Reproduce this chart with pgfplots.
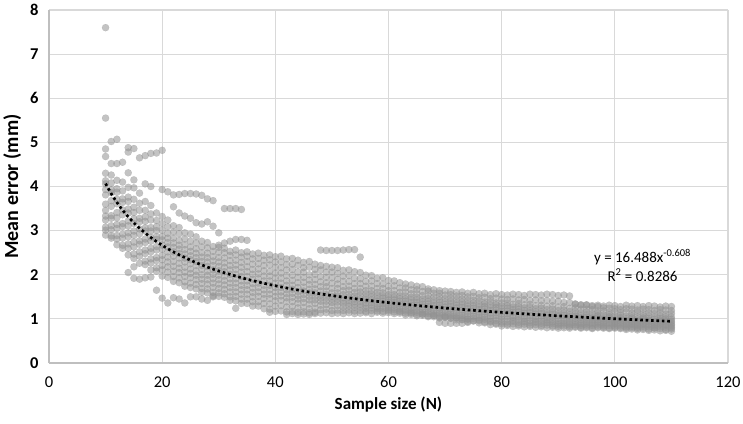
\documentclass[border=0pt]{standalone}
\usepackage{pgfplots}
\pgfplotsset{compat=1.18}
\usepackage{fontspec}
\setmainfont{Carlito}
\definecolor{dotgray}{RGB}{145,145,145}
\definecolor{gridgray}{RGB}{217,217,217}
\definecolor{axisgray}{RGB}{191,191,191}
\pgfplotsset{scat/.style={only marks, color=dotgray, mark=*, mark size=3.6pt, mark options={solid, draw=dotgray, fill=dotgray, line width=0.1pt, opacity=0.55}}}
\begin{document}
\begin{tikzpicture}
\useasboundingbox (-49pt,-60pt) rectangle (694pt,363pt);
\begin{axis}[
  scale only axis, width=679pt, height=353pt,
  xmin=0, xmax=120, ymin=0, ymax=8,
  xtick={0,20,...,120}, ytick={0,1,...,8},
  grid=major, grid style={draw=gridgray, line width=1.1pt},
  axis x line*=bottom, axis y line*=left,
  x axis line style={-, draw=axisgray, line width=1.1pt},
  y axis line style={-, draw=axisgray, line width=1.1pt},
  tick style={draw=none},
  /pgf/number format/assume math mode=true,
  xticklabel style={font=\fontsize{16.5}{19}\selectfont, yshift=-10pt},
  yticklabel style={font=\fontsize{16.5}{19}\selectfont\bfseries, xshift=-7pt},
  xlabel={\bfseries Sample size (N)},
  ylabel={\bfseries Mean error (mm)},
  xlabel style={font=\fontsize{17}{20}\selectfont, yshift=-2pt},
  ylabel style={font=\fontsize{20}{22}\selectfont, yshift=2pt},
  clip=false, clip marker paths=true,
]
% trajectory 1
\addplot[scat] table[row sep=\\] {x y\\
10 4.30\\11 4.26\\12 4.14\\13 4.10\\14 3.98\\15 3.97\\16 3.85\\17 3.66\\18 3.57\\19 3.40\\
20 3.32\\21 3.24\\22 3.11\\23 3.07\\24 2.95\\25 2.92\\26 2.86\\27 2.76\\28 2.73\\29 2.64\\
30 2.62\\31 2.60\\32 2.53\\33 2.56\\34 2.50\\35 2.52\\36 2.47\\37 2.49\\38 2.44\\39 2.45\\
40 2.41\\41 2.42\\42 2.36\\43 2.37\\44 2.33\\45 2.28\\46 2.30\\47 2.24\\48 2.21\\49 2.19\\
50 2.17\\51 2.16\\52 2.10\\53 2.11\\54 2.07\\55 2.05\\56 1.99\\57 1.98\\58 1.92\\59 1.93\\
60 1.87\\61 1.86\\62 1.82\\63 1.79\\64 1.77\\65 1.74\\66 1.73\\67 1.68\\68 1.66\\69 1.64\\
70 1.63\\71 1.62\\72 1.60\\73 1.61\\74 1.58\\75 1.60\\76 1.57\\77 1.58\\78 1.55\\79 1.57\\
80 1.55\\81 1.54\\82 1.56\\83 1.55\\84 1.53\\85 1.56\\86 1.55\\87 1.54\\88 1.56\\89 1.55\\
90 1.53\\91 1.54\\92 1.52\\93 1.33\\94 1.31\\95 1.32\\96 1.30\\97 1.31\\98 1.29\\99 1.31\\
100 1.30\\101 1.28\\102 1.31\\103 1.29\\104 1.30\\105 1.28\\106 1.30\\107 1.29\\108 1.27\\109 1.29\\110 1.28\\
};
% trajectory 2
\addplot[scat] table[row sep=\\] {x y\\
10 4.13\\11 4.08\\12 3.95\\13 3.90\\14 3.76\\15 3.71\\16 3.62\\17 3.46\\18 3.38\\19 3.23\\
20 3.16\\21 3.09\\22 2.97\\23 2.93\\24 2.81\\25 2.76\\26 2.72\\27 2.63\\28 2.61\\29 2.53\\
30 2.51\\31 2.50\\32 2.44\\33 2.45\\34 2.40\\35 2.42\\36 2.36\\37 2.37\\38 2.33\\39 2.34\\
40 2.29\\41 2.29\\42 2.23\\43 2.24\\44 2.21\\45 2.16\\46 2.17\\47 2.12\\48 2.11\\49 2.06\\
50 2.06\\51 2.03\\52 1.97\\53 1.98\\54 1.92\\55 1.91\\56 1.85\\57 1.86\\58 1.80\\59 1.79\\
60 1.74\\61 1.75\\62 1.70\\63 1.70\\64 1.66\\65 1.66\\66 1.62\\67 1.63\\68 1.58\\69 1.58\\
70 1.54\\71 1.55\\72 1.52\\73 1.53\\74 1.50\\75 1.51\\76 1.48\\77 1.49\\78 1.46\\79 1.47\\
80 1.45\\81 1.44\\82 1.45\\83 1.43\\84 1.44\\85 1.42\\86 1.43\\87 1.41\\88 1.42\\89 1.40\\
90 1.40\\91 1.37\\92 1.37\\93 1.34\\94 1.32\\95 1.31\\96 1.28\\97 1.28\\98 1.25\\99 1.24\\
100 1.23\\101 1.21\\102 1.23\\103 1.22\\104 1.20\\105 1.22\\106 1.21\\107 1.19\\108 1.21\\109 1.20\\110 1.19\\
};
% trajectory 3
\addplot[scat] table[row sep=\\] {x y\\
10 4.06\\11 3.93\\12 3.87\\13 3.72\\14 3.66\\15 3.53\\16 3.46\\17 3.31\\18 3.24\\19 3.09\\
20 3.01\\21 2.94\\22 2.83\\23 2.78\\24 2.68\\25 2.63\\26 2.59\\27 2.50\\28 2.49\\29 2.41\\
30 2.39\\31 2.38\\32 2.32\\33 2.33\\34 2.28\\35 2.30\\36 2.24\\37 2.25\\38 2.21\\39 2.22\\
40 2.17\\41 2.16\\42 2.11\\43 2.12\\44 2.06\\45 2.06\\46 2.00\\47 2.01\\48 1.96\\49 1.94\\
50 1.93\\51 1.90\\52 1.85\\53 1.85\\54 1.80\\55 1.80\\56 1.74\\57 1.74\\58 1.69\\59 1.69\\
60 1.64\\61 1.64\\62 1.60\\63 1.61\\64 1.57\\65 1.57\\66 1.53\\67 1.53\\68 1.50\\69 1.50\\
70 1.46\\71 1.47\\72 1.44\\73 1.45\\74 1.42\\75 1.42\\76 1.41\\77 1.38\\78 1.39\\79 1.36\\
80 1.36\\81 1.36\\82 1.33\\83 1.35\\84 1.32\\85 1.33\\86 1.30\\87 1.31\\88 1.29\\89 1.30\\
90 1.27\\91 1.28\\92 1.24\\93 1.25\\94 1.22\\95 1.22\\96 1.21\\97 1.18\\98 1.18\\99 1.15\\
100 1.16\\101 1.14\\102 1.15\\103 1.13\\104 1.15\\105 1.12\\106 1.14\\107 1.12\\108 1.13\\109 1.11\\110 1.12\\
};
% trajectory 4
\addplot[scat] table[row sep=\\] {x y\\
10 3.93\\11 3.86\\12 3.71\\13 3.64\\14 3.49\\15 3.41\\16 3.28\\17 3.21\\18 3.07\\19 3.00\\
20 2.87\\21 2.83\\22 2.72\\23 2.67\\24 2.57\\25 2.53\\26 2.49\\27 2.40\\28 2.39\\29 2.31\\
30 2.29\\31 2.27\\32 2.21\\33 2.22\\34 2.17\\35 2.18\\36 2.12\\37 2.13\\38 2.09\\39 2.08\\
40 2.04\\41 2.04\\42 1.98\\43 1.99\\44 1.94\\45 1.94\\46 1.88\\47 1.89\\48 1.84\\49 1.82\\
50 1.81\\51 1.79\\52 1.73\\53 1.74\\54 1.69\\55 1.69\\56 1.64\\57 1.64\\58 1.60\\59 1.59\\
60 1.55\\61 1.55\\62 1.52\\63 1.52\\64 1.49\\65 1.49\\66 1.45\\67 1.46\\68 1.42\\69 1.43\\
70 1.39\\71 1.40\\72 1.37\\73 1.38\\74 1.35\\75 1.36\\76 1.33\\77 1.34\\78 1.31\\79 1.32\\
80 1.29\\81 1.30\\82 1.27\\83 1.28\\84 1.25\\85 1.26\\86 1.23\\87 1.24\\88 1.21\\89 1.22\\
90 1.19\\91 1.20\\92 1.17\\93 1.17\\94 1.14\\95 1.15\\96 1.12\\97 1.13\\98 1.09\\99 1.10\\
100 1.07\\101 1.08\\102 1.06\\103 1.07\\104 1.05\\105 1.07\\106 1.06\\107 1.04\\108 1.06\\109 1.05\\110 1.04\\
};
% trajectory 5
\addplot[scat] table[row sep=\\] {x y\\
10 3.81\\11 3.68\\12 3.61\\13 3.47\\14 3.40\\15 3.27\\16 3.20\\17 3.06\\18 2.99\\19 2.86\\
20 2.79\\21 2.73\\22 2.62\\23 2.58\\24 2.47\\25 2.43\\26 2.39\\27 2.30\\28 2.29\\29 2.21\\
30 2.19\\31 2.17\\32 2.11\\33 2.12\\34 2.06\\35 2.07\\36 2.01\\37 2.02\\38 1.97\\39 1.97\\
40 1.92\\41 1.92\\42 1.86\\43 1.87\\44 1.82\\45 1.83\\46 1.78\\47 1.78\\48 1.73\\49 1.73\\
50 1.69\\51 1.69\\52 1.64\\53 1.65\\54 1.60\\55 1.61\\56 1.57\\57 1.57\\58 1.53\\59 1.53\\
60 1.49\\61 1.49\\62 1.46\\63 1.46\\64 1.43\\65 1.43\\66 1.39\\67 1.40\\68 1.36\\69 1.37\\
70 1.33\\71 1.34\\72 1.31\\73 1.32\\74 1.29\\75 1.30\\76 1.27\\77 1.28\\78 1.25\\79 1.26\\
80 1.23\\81 1.24\\82 1.21\\83 1.22\\84 1.19\\85 1.19\\86 1.16\\87 1.17\\88 1.14\\89 1.15\\
90 1.12\\91 1.13\\92 1.10\\93 1.11\\94 1.08\\95 1.09\\96 1.06\\97 1.07\\98 1.04\\99 1.05\\
100 1.02\\101 1.03\\102 1.01\\103 1.02\\104 1.00\\105 1.02\\106 1.01\\107 0.99\\108 1.01\\109 1.00\\110 0.99\\
};
% trajectory 6
\addplot[scat] table[row sep=\\] {x y\\
10 3.60\\11 3.55\\12 3.41\\13 3.36\\14 3.22\\15 3.16\\16 3.04\\17 2.99\\18 2.85\\19 2.80\\
20 2.67\\21 2.63\\22 2.52\\23 2.48\\24 2.38\\25 2.34\\26 2.30\\27 2.21\\28 2.19\\29 2.11\\
30 2.09\\31 2.07\\32 2.01\\33 2.01\\34 1.96\\35 1.96\\36 1.90\\37 1.91\\38 1.86\\39 1.86\\
40 1.81\\41 1.81\\42 1.76\\43 1.76\\44 1.71\\45 1.72\\46 1.67\\47 1.68\\48 1.63\\49 1.63\\
50 1.59\\51 1.59\\52 1.55\\53 1.56\\54 1.52\\55 1.53\\56 1.49\\57 1.50\\58 1.46\\59 1.47\\
60 1.43\\61 1.43\\62 1.40\\63 1.40\\64 1.37\\65 1.37\\66 1.33\\67 1.34\\68 1.30\\69 1.31\\
70 1.27\\71 1.28\\72 1.25\\73 1.26\\74 1.23\\75 1.24\\76 1.21\\77 1.22\\78 1.19\\79 1.20\\
80 1.17\\81 1.18\\82 1.15\\83 1.16\\84 1.13\\85 1.14\\86 1.11\\87 1.12\\88 1.09\\89 1.10\\
90 1.07\\91 1.08\\92 1.05\\93 1.06\\94 1.03\\95 1.04\\96 1.02\\97 1.03\\98 1.00\\99 1.01\\
100 0.98\\101 0.99\\102 0.97\\103 0.98\\104 0.96\\105 0.98\\106 0.97\\107 0.95\\108 0.97\\109 0.96\\110 0.95\\
};
% trajectory 7
\addplot[scat] table[row sep=\\] {x y\\
10 3.46\\11 3.34\\12 3.29\\13 3.16\\14 3.11\\15 2.99\\16 2.93\\17 2.81\\18 2.76\\19 2.64\\
20 2.58\\21 2.52\\22 2.42\\23 2.38\\24 2.29\\25 2.25\\26 2.21\\27 2.12\\28 2.09\\29 2.01\\
30 1.99\\31 1.97\\32 1.91\\33 1.91\\34 1.86\\35 1.86\\36 1.80\\37 1.81\\38 1.76\\39 1.76\\
40 1.71\\41 1.71\\42 1.66\\43 1.67\\44 1.62\\45 1.63\\46 1.59\\47 1.59\\48 1.54\\49 1.55\\
50 1.51\\51 1.52\\52 1.48\\53 1.49\\54 1.45\\55 1.46\\56 1.43\\57 1.43\\58 1.40\\59 1.40\\
60 1.37\\61 1.37\\62 1.34\\63 1.34\\64 1.31\\65 1.31\\66 1.27\\67 1.28\\68 1.24\\69 1.25\\
70 1.21\\71 1.22\\72 1.19\\73 1.20\\74 1.17\\75 1.18\\76 1.15\\77 1.16\\78 1.13\\79 1.14\\
80 1.11\\81 1.12\\82 1.09\\83 1.10\\84 1.07\\85 1.08\\86 1.05\\87 1.06\\88 1.03\\89 1.04\\
90 1.01\\91 1.02\\92 1.00\\93 1.01\\94 0.98\\95 0.99\\96 0.97\\97 0.98\\98 0.95\\99 0.97\\
100 0.94\\101 0.95\\102 0.93\\103 0.94\\104 0.92\\105 0.94\\106 0.93\\107 0.91\\108 0.93\\109 0.92\\110 0.91\\
};
% trajectory 8
\addplot[scat] table[row sep=\\] {x y\\
10 3.33\\11 3.28\\12 3.14\\13 3.09\\14 2.95\\15 2.89\\16 2.77\\17 2.73\\18 2.60\\19 2.56\\
20 2.44\\21 2.40\\22 2.30\\23 2.26\\24 2.17\\25 2.13\\26 2.09\\27 2.00\\28 1.99\\29 1.91\\
30 1.89\\31 1.87\\32 1.81\\33 1.81\\34 1.76\\35 1.76\\36 1.70\\37 1.71\\38 1.66\\39 1.66\\
40 1.61\\41 1.61\\42 1.57\\43 1.58\\44 1.53\\45 1.55\\46 1.51\\47 1.51\\48 1.47\\49 1.48\\
50 1.44\\51 1.45\\52 1.41\\53 1.42\\54 1.39\\55 1.40\\56 1.36\\57 1.37\\58 1.34\\59 1.34\\
60 1.31\\61 1.31\\62 1.28\\63 1.28\\64 1.25\\65 1.25\\66 1.21\\67 1.22\\68 1.18\\69 1.19\\
70 1.15\\71 1.16\\72 1.13\\73 1.14\\74 1.11\\75 1.12\\76 1.09\\77 1.10\\78 1.07\\79 1.08\\
80 1.05\\81 1.06\\82 1.03\\83 1.04\\84 1.01\\85 1.02\\86 0.99\\87 1.00\\88 0.97\\89 0.98\\
90 0.95\\91 0.96\\92 0.94\\93 0.95\\94 0.93\\95 0.94\\96 0.92\\97 0.93\\98 0.91\\99 0.92\\
100 0.90\\101 0.91\\102 0.89\\103 0.90\\104 0.88\\105 0.90\\106 0.89\\107 0.87\\108 0.89\\109 0.88\\110 0.87\\
};
% trajectory 9
\addplot[scat] table[row sep=\\] {x y\\
10 3.24\\11 3.11\\12 3.05\\13 2.92\\14 2.86\\15 2.74\\16 2.69\\17 2.56\\18 2.52\\19 2.39\\
20 2.34\\21 2.29\\22 2.19\\23 2.15\\24 2.06\\25 2.03\\26 1.99\\27 1.90\\28 1.89\\29 1.81\\
30 1.79\\31 1.77\\32 1.71\\33 1.71\\34 1.66\\35 1.66\\36 1.60\\37 1.61\\38 1.56\\39 1.56\\
40 1.51\\41 1.52\\42 1.48\\43 1.49\\44 1.45\\45 1.46\\46 1.43\\47 1.43\\48 1.40\\49 1.40\\
50 1.37\\51 1.38\\52 1.35\\53 1.35\\54 1.32\\55 1.33\\56 1.30\\57 1.31\\58 1.27\\59 1.28\\
60 1.25\\61 1.25\\62 1.22\\63 1.22\\64 1.19\\65 1.19\\66 1.15\\67 1.16\\68 1.12\\69 1.13\\
70 1.09\\71 1.10\\72 1.07\\73 1.08\\74 1.05\\75 1.06\\76 1.03\\77 1.04\\78 1.01\\79 1.02\\
80 0.99\\81 1.00\\82 0.97\\83 0.98\\84 0.95\\85 0.96\\86 0.94\\87 0.95\\88 0.92\\89 0.93\\
90 0.90\\91 0.91\\92 0.90\\93 0.91\\94 0.89\\95 0.90\\96 0.89\\97 0.90\\98 0.88\\99 0.89\\
100 0.88\\101 0.88\\102 0.86\\103 0.87\\104 0.85\\105 0.87\\106 0.86\\107 0.84\\108 0.86\\109 0.85\\110 0.84\\
};
% trajectory 10
\addplot[scat] table[row sep=\\] {x y\\
10 3.08\\11 3.02\\12 2.89\\13 2.83\\14 2.70\\15 2.63\\16 2.52\\17 2.48\\18 2.36\\19 2.32\\
20 2.21\\21 2.18\\22 2.08\\23 2.05\\24 1.96\\25 1.93\\26 1.89\\27 1.80\\28 1.79\\29 1.71\\
30 1.69\\31 1.67\\32 1.61\\33 1.61\\34 1.56\\35 1.56\\36 1.50\\37 1.51\\38 1.46\\39 1.46\\
40 1.41\\41 1.42\\42 1.39\\43 1.39\\44 1.36\\45 1.37\\46 1.34\\47 1.35\\48 1.31\\49 1.32\\
50 1.29\\51 1.30\\52 1.27\\53 1.29\\54 1.26\\55 1.27\\56 1.24\\57 1.25\\58 1.23\\59 1.24\\
60 1.21\\61 1.21\\62 1.18\\63 1.18\\64 1.15\\65 1.15\\66 1.11\\67 1.12\\68 1.08\\69 1.09\\
70 1.05\\71 1.06\\72 1.03\\73 1.03\\74 1.00\\75 1.01\\76 0.98\\77 0.99\\78 0.95\\79 0.96\\
80 0.93\\81 0.93\\82 0.94\\83 0.92\\84 0.93\\85 0.91\\86 0.92\\87 0.90\\88 0.91\\89 0.89\\
90 0.87\\91 0.88\\92 0.86\\93 0.87\\94 0.85\\95 0.86\\96 0.85\\97 0.86\\98 0.84\\99 0.85\\
100 0.84\\101 0.84\\102 0.82\\103 0.83\\104 0.81\\105 0.83\\106 0.82\\107 0.80\\108 0.82\\109 0.81\\110 0.80\\
};
% trajectory 11
\addplot[scat] table[row sep=\\] {x y\\
10 3.01\\11 2.88\\12 2.81\\13 2.67\\14 2.60\\15 2.47\\16 2.42\\17 2.31\\18 2.27\\19 2.16\\
20 2.11\\21 2.06\\22 1.96\\23 1.93\\24 1.84\\25 1.81\\26 1.78\\27 1.69\\28 1.68\\29 1.60\\
30 1.59\\31 1.57\\32 1.50\\33 1.51\\34 1.45\\35 1.45\\36 1.39\\37 1.39\\38 1.35\\39 1.34\\
40 1.29\\41 1.30\\42 1.27\\43 1.28\\44 1.25\\45 1.26\\46 1.23\\47 1.24\\48 1.21\\49 1.22\\
50 1.19\\51 1.20\\52 1.19\\53 1.20\\54 1.18\\55 1.19\\56 1.17\\57 1.19\\58 1.18\\59 1.17\\
60 1.18\\61 1.16\\62 1.16\\63 1.13\\64 1.13\\65 1.10\\66 1.11\\67 1.07\\68 1.08\\69 1.04\\
70 1.05\\71 1.02\\72 1.02\\73 0.99\\74 0.99\\75 0.96\\76 0.96\\77 0.93\\78 0.93\\79 0.90\\
80 0.89\\81 0.88\\82 0.89\\83 0.87\\84 0.88\\85 0.86\\86 0.87\\87 0.85\\88 0.86\\89 0.84\\
90 0.83\\91 0.84\\92 0.82\\93 0.83\\94 0.81\\95 0.82\\96 0.80\\97 0.82\\98 0.81\\99 0.80\\
100 0.81\\101 0.80\\102 0.79\\103 0.80\\104 0.78\\105 0.79\\106 0.77\\107 0.79\\108 0.78\\109 0.76\\110 0.77\\
};
% trajectory 12
\addplot[scat] table[row sep=\\] {x y\\
10 2.90\\11 2.83\\12 2.68\\13 2.60\\14 2.45\\15 2.37\\16 2.26\\17 2.23\\18 2.11\\19 2.08\\
20 1.97\\21 1.94\\22 1.85\\23 1.82\\24 1.74\\25 1.71\\26 1.68\\27 1.60\\28 1.59\\29 1.52\\
30 1.51\\31 1.49\\32 1.42\\33 1.41\\34 1.35\\35 1.35\\36 1.29\\37 1.29\\38 1.23\\39 1.22\\
40 1.17\\41 1.18\\42 1.16\\43 1.17\\44 1.15\\45 1.16\\46 1.14\\47 1.15\\48 1.13\\49 1.14\\
50 1.12\\51 1.13\\52 1.12\\53 1.14\\54 1.12\\55 1.13\\56 1.14\\57 1.12\\58 1.15\\59 1.13\\
60 1.14\\61 1.12\\62 1.13\\63 1.09\\64 1.10\\65 1.07\\66 1.08\\67 1.05\\68 1.05\\69 1.02\\
70 1.03\\71 1.01\\72 0.98\\73 0.98\\74 0.94\\75 0.95\\76 0.91\\77 0.91\\78 0.87\\79 0.88\\
80 0.84\\81 0.85\\82 0.83\\83 0.84\\84 0.82\\85 0.83\\86 0.81\\87 0.82\\88 0.80\\89 0.81\\
90 0.79\\91 0.80\\92 0.79\\93 0.81\\94 0.79\\95 0.80\\96 0.78\\97 0.80\\98 0.79\\99 0.78\\
100 0.79\\101 0.78\\102 0.76\\103 0.77\\104 0.75\\105 0.76\\106 0.74\\107 0.75\\108 0.73\\109 0.74\\110 0.72\\
};
% isolated chains and outliers
\addplot[scat] table[row sep=\\] {x y\\
10 7.60\\10 5.55\\10 4.85\\10 4.68\\11 5.02\\12 5.07\\11 4.52\\12 4.52\\13 4.55\\14 4.88\\
14 4.78\\15 4.86\\16 4.65\\17 4.70\\18 4.75\\19 4.76\\20 4.82\\14 4.31\\15 4.15\\17 4.06\\18 4.00\\
20 3.93\\21 3.88\\22 3.81\\23 3.82\\24 3.84\\25 3.84\\26 3.83\\27 3.80\\28 3.72\\29 3.68\\
31 3.50\\32 3.50\\33 3.50\\34 3.48\\
22 3.54\\23 3.40\\24 3.33\\25 3.28\\26 3.18\\27 3.15\\28 3.20\\29 3.10\\30 2.95\\
30 2.67\\31 2.72\\32 2.76\\33 2.80\\34 2.80\\35 2.78\\
48 2.56\\49 2.55\\50 2.55\\51 2.55\\52 2.56\\53 2.57\\54 2.57\\55 2.40\\
14 2.05\\15 2.18\\15 1.92\\16 1.90\\17 1.93\\18 1.95\\19 1.65\\
20 1.47\\21 1.36\\22 1.48\\23 1.45\\24 1.36\\25 1.50\\26 1.50\\27 1.45\\28 1.42\\29 1.50\\
33 1.24\\39 1.15\\42 1.10\\43 1.12\\44 1.10\\45 1.11\\46 1.10\\47 1.12\\
69 0.92\\70 0.90\\71 0.90\\72 0.90\\73 0.90\\74 0.92\\
};
% power trendline y = 16.488 x^-0.608
\addplot[draw=black, opacity=1, line width=2.7pt, dash pattern=on 2.6pt off 2.8pt, line cap=butt, smooth] coordinates {
(10,4.066) (11,3.837) (12,3.641) (13,3.466) (14,3.314) (15,3.177) (16,3.056) (18,2.844)
(20,2.668) (22,2.518) (25,2.330) (27,2.223) (30,2.085) (35,1.899) (40,1.750) (45,1.629)
(50,1.528) (55,1.442) (60,1.368) (65,1.303) (70,1.245) (75,1.194) (80,1.148) (85,1.106)
(90,1.069) (95,1.034) (100,1.002) (105,0.973) (110,0.946)
};
\node[align=center, font=\fontsize{15}{19}\selectfont] at (axis cs:104.9,2.21) {y = 16.488x\textsuperscript{-0.608}\\R\textsuperscript{2} = 0.8286};
\end{axis}
\end{tikzpicture}
\end{document}
